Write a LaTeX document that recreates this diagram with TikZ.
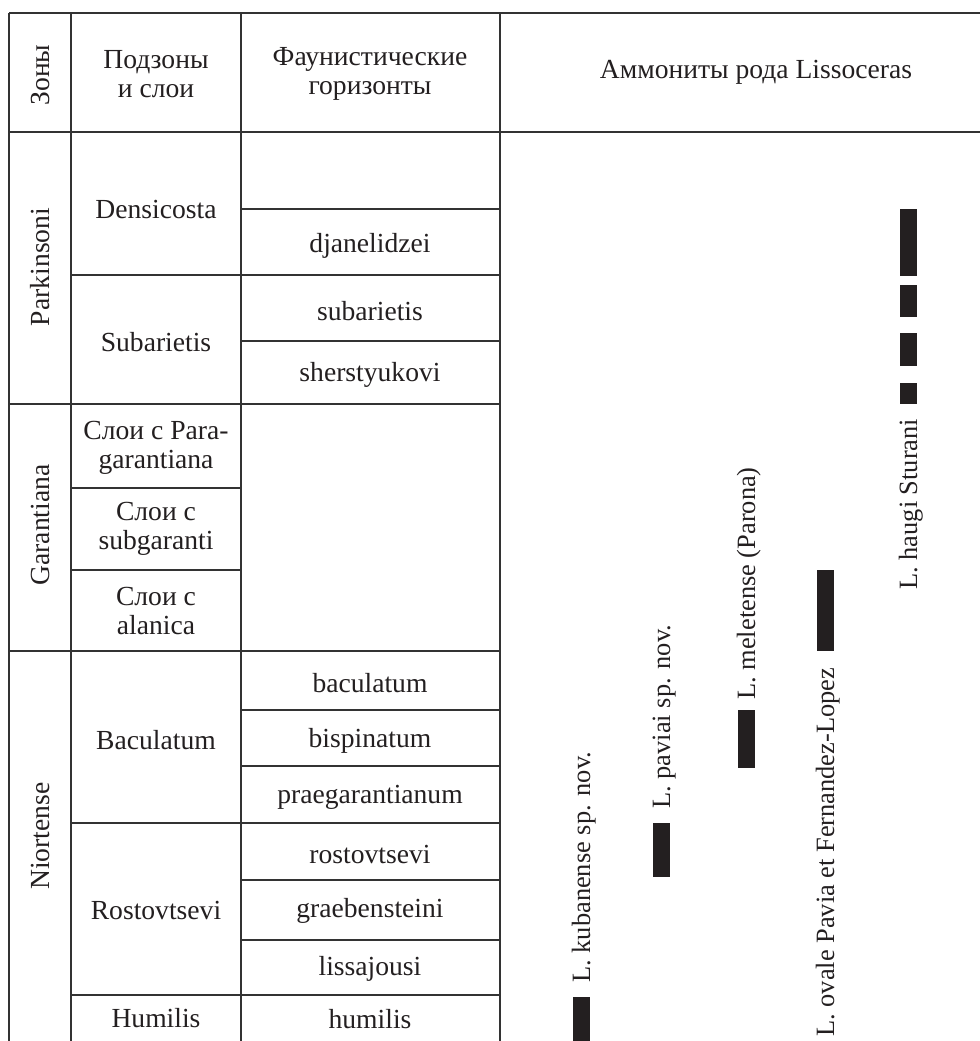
\documentclass[tikz,border=0pt]{standalone}
\usepackage{fontspec}
\setmainfont{Liberation Serif}
\definecolor{rule}{rgb}{0.2,0.2,0.2}
\definecolor{barc}{RGB}{35,31,32}
\definecolor{txt}{RGB}{35,31,32}
\begin{document}
\begin{tikzpicture}[x=0.5pt,y=-0.5pt,
  grid/.style={draw=rule,line width=0.7pt},
  cell/.style={inner sep=0pt,align=center,text=txt,font=\fontsize{13.8}{14.8}\selectfont},
  vlab/.style={inner sep=0pt,rotate=90,text=txt,font=\fontsize{13.8}{14.8}\selectfont},
  amm/.style={inner sep=0pt,rotate=90,anchor=base west,text=txt,font=\fontsize{13.2}{14}\selectfont},
  bar/.style={fill=barc,draw=none}]
\useasboundingbox (0,0) rectangle (980,1041);
% frame lines
\draw[grid] (9,13) -- (980,13);
\draw[grid] (9,132) -- (980,132);
\draw[grid] (9,13) -- (9,1041);
\draw[grid] (71,13) -- (71,1041);
\draw[grid] (241,13) -- (241,1041);
\draw[grid] (500,13) -- (500,1041);
% zone lines
\draw[grid] (9,404) -- (500,404);
\draw[grid] (9,651) -- (500,651);
% subzone lines
\draw[grid] (71,275) -- (500,275);
\draw[grid] (71,823) -- (500,823);
\draw[grid] (71,995) -- (500,995);
\draw[grid] (71,488) -- (241,488);
\draw[grid] (71,570) -- (241,570);
% horizon lines
\draw[grid] (241,209) -- (500,209);
\draw[grid] (241,341) -- (500,341);
\draw[grid] (241,710) -- (500,710);
\draw[grid] (241,766) -- (500,766);
\draw[grid] (241,880) -- (500,880);
\draw[grid] (241,940) -- (500,940);
% header
\node[vlab] (hz) at (40,75) {Зоны};
\node[cell] (hs) at (156,74) {Подзоны\\и слои};
\node[cell] (hh) at (370,74) {Фаунистические\\горизонты};
\node[cell] (ha) at (756,72) {Аммониты рода Lissoceras};
% zones
\node[vlab] (zp) at (40,267) {Parkinsoni};
\node[vlab] (zg) at (40,525) {Garantiana};
\node[vlab] (zn) at (40,836) {Niortense};
% subzones
\node[cell] (sd) at (156,209) {Densicosta};
\node[cell] (ss) at (156,342) {Subarietis};
\node[cell] (sp) at (156,448) {Слои с Para-\\garantiana};
\node[cell] (sg) at (156,529) {Слои с\\subgaranti};
\node[cell] (sa) at (156,611) {Слои с\\alanica};
\node[cell] (sb) at (156,740) {Baculatum};
\node[cell] (sr) at (156,910) {Rostovtsevi};
\node[cell] (shm) at (156,1018) {Humilis};
% horizons
\node[cell] (f1) at (370,246) {djanelidzei};
\node[cell] (f2) at (370,311) {subarietis};
\node[cell] (f3) at (370,375) {sherstyukovi};
\node[cell] (f4) at (370,683) {baculatum};
\node[cell] (f5) at (370,741) {bispinatum};
\node[cell] (f6) at (370,797) {praegarantianum};
\node[cell] (f7) at (370,854) {rostovtsevi};
\node[cell] (f8) at (370,911) {graebensteini};
\node[cell] (f9) at (370,969) {lissajousi};
\node[cell] (f10) at (370,1019) {humilis};
% ammonite ranges
\fill[bar] (573,997) rectangle (590,1041);
\node[amm] (a1) at (590,983) {L. kubanense sp. nov.};
\fill[bar] (653,823) rectangle (670,877);
\node[amm] (a2) at (670,809) {L. paviai sp. nov.};
\fill[bar] (738,710) rectangle (755,768);
\node[amm] (a3) at (755,700) {L. meletense (Parona)};
\fill[bar] (817,570) rectangle (834,651);
\node[amm] (a4) at (834,1037) {L. ovale Pavia et Fernandez-Lopez};
\fill[bar] (900,209) rectangle (917,276);
\fill[bar] (900,285) rectangle (917,317);
\fill[bar] (900,333) rectangle (917,366);
\fill[bar] (900,383) rectangle (917,404);
\node[amm] (a5) at (917,590) {L. haugi Sturani};
\end{tikzpicture}
\end{document}
